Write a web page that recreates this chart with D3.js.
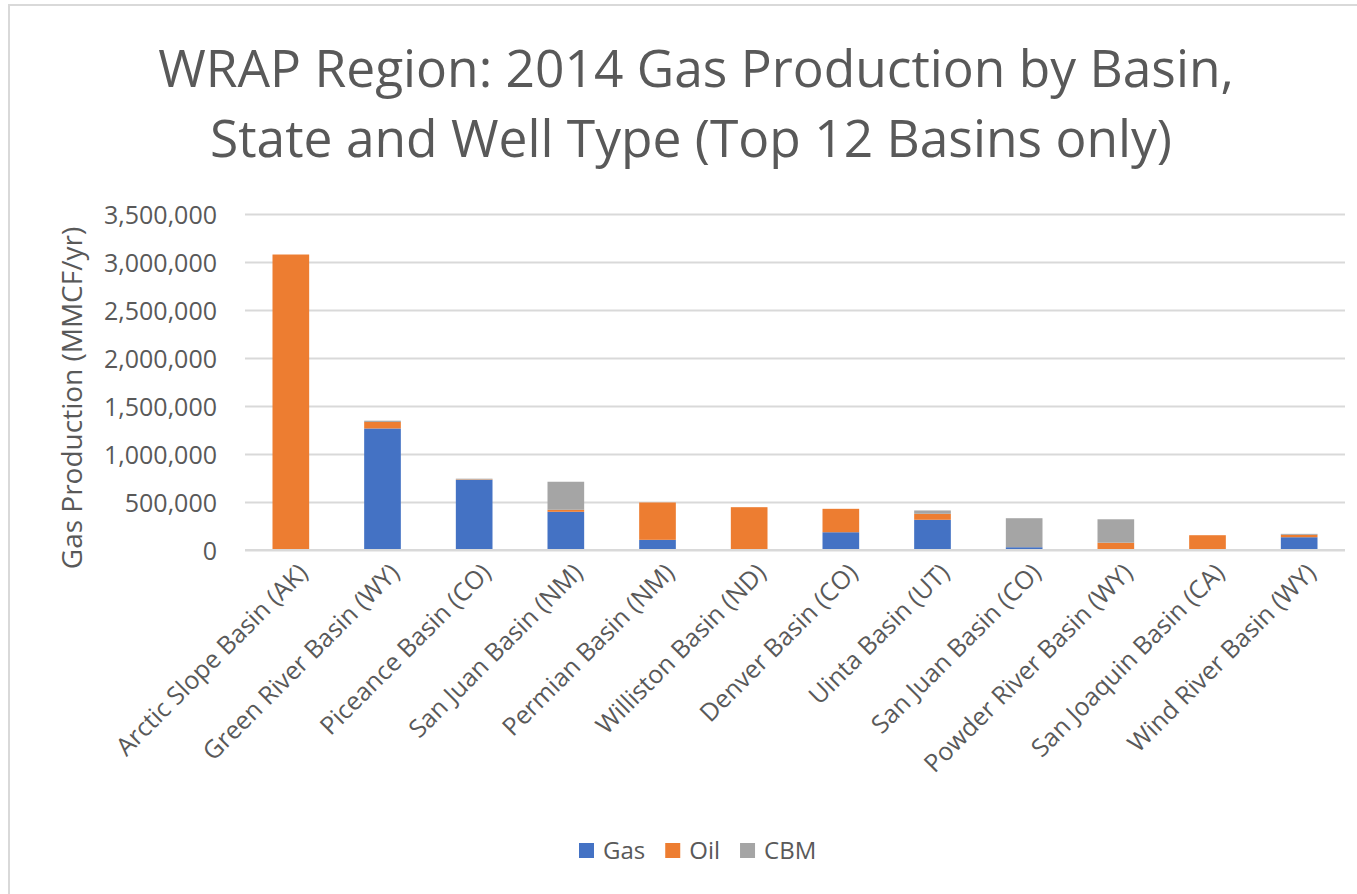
<!DOCTYPE html>
<html>
<head>
<meta charset="utf-8">
<script src="https://cdn.jsdelivr.net/npm/d3@7"></script>
<style>
  body { margin: 0; background: #fff; }
  text { font-family: "Open Sans", "Noto Sans", sans-serif; fill: #595959; }
</style>
</head>
<body>
<script>
// chart data (MMCF/yr)
const basins = [
  "Arctic Slope Basin (AK)", "Green River Basin (WY)", "Piceance Basin (CO)",
  "San Juan Basin (NM)", "Permian Basin (NM)", "Williston Basin (ND)",
  "Denver Basin (CO)", "Uinta Basin (UT)", "San Juan Basin (CO)",
  "Powder River Basin (WY)", "San Joaquin Basin (CA)", "Wind River Basin (WY)"
]
const gasVals = [0, 1266000, 730000, 398000, 106000, 0, 185000, 315000, 29000, 5000, 0, 133000]
const oilVals = [3078000, 68000, 5000, 21000, 389000, 446000, 244000, 62000, 0, 71000, 154000, 25000]
const cbmVals = [0, 13000, 8000, 292000, 0, 0, 0, 35000, 302000, 244000, 0, 10000]
const seriesNames = ["Gas", "Oil", "CBM"]
const yTicks = [0, 500000, 1000000, 1500000, 2000000, 2500000, 3000000, 3500000]

const colors = { Gas: "#4472C4", Oil: "#ED7D31", CBM: "#A5A5A5" }

const W = 1357, H = 894
const svg = d3.select("body").append("svg")
  .attr("width", W)
  .attr("height", H)

// outer chart frame
svg.append("rect")
  .attr("x", 9).attr("y", 5)
  .attr("width", 1370).attr("height", 910)
  .attr("fill", "none")
  .attr("stroke", "#D9D9D9")
  .attr("stroke-width", 2)

// title
const title = svg.append("text")
  .attr("text-anchor", "middle")
  .style("font-size", "51.5px")
title.append("tspan").attr("x", 696).attr("y", 87)
  .text("WRAP Region: 2014 Gas Production by Basin,")
title.append("tspan").attr("x", 691).attr("y", 157)
  .text("State and Well Type (Top 12 Basins only)")

const plotL = 245, plotR = 1345, plotT = 214, plotB = 550

const x = d3.scaleBand()
  .domain(basins)
  .range([plotL, plotR])
  .paddingInner(0.6)
  .paddingOuter(0.3)

const y = d3.scaleLinear()
  .domain([0, 3500000])
  .range([plotB, plotT])

// gridlines + y labels
const yAxis = d3.axisLeft(y)
  .tickValues(yTicks)
  .tickSize(-(plotR - plotL))
  .tickPadding(28)
  .tickFormat(d3.format(","))

const gy = svg.append("g")
  .attr("transform", `translate(${plotL},0)`)
  .call(yAxis)
gy.select(".domain").remove()
gy.selectAll(".tick line").attr("stroke", "#D9D9D9").attr("stroke-width", 2)
gy.selectAll(".tick text")
  .style("font-size", "25px")
  .attr("fill", "#595959")
  .attr("dy", "0.36em")

// stacked bars
const rows = basins.map((b, i) => ({ basin: b, Gas: gasVals[i], Oil: oilVals[i], CBM: cbmVals[i] }))
const stacked = d3.stack().keys(seriesNames)(rows)

svg.append("g").selectAll("g")
  .data(stacked)
  .join("g")
  .attr("fill", d => colors[d.key])
  .selectAll("rect")
  .data(d => d)
  .join("rect")
  .attr("x", d => x(d.data.basin))
  .attr("width", x.bandwidth())
  .attr("y", d => y(d[1]))
  .attr("height", d => y(d[0]) - y(d[1]))

// baseline
svg.append("line")
  .attr("x1", plotL).attr("x2", plotR)
  .attr("y1", plotB).attr("y2", plotB)
  .attr("stroke", "#D9D9D9")
  .attr("stroke-width", 2)

// x labels rotated
svg.append("g").selectAll("text")
  .data(basins)
  .join("text")
  .attr("text-anchor", "end")
  .style("font-size", "25px")
  .attr("transform", d => `translate(${x(d) + x.bandwidth() / 2 + 6},${plotB + 12}) rotate(-45)`)
  .attr("dy", "0.7em")
  .text(d => d)

// y axis title
svg.append("text")
  .attr("text-anchor", "middle")
  .style("font-size", "28px")
  .attr("transform", `translate(82,398) rotate(-90)`)
  .text("Gas Production (MMCF/yr)")

// legend
const legend = svg.append("g").attr("transform", "translate(579,843)")
let lx = 0
seriesNames.forEach(name => {
  const item = legend.append("g").attr("transform", `translate(${lx},0)`)
  item.append("rect")
    .attr("width", 15).attr("height", 15)
    .attr("fill", colors[name])
  const t = item.append("text")
    .attr("x", 24).attr("y", 16)
    .style("font-size", "24px")
    .text(name)
  lx += 24 + t.node().getComputedTextLength() + 20
})
</script>
</body>
</html>
